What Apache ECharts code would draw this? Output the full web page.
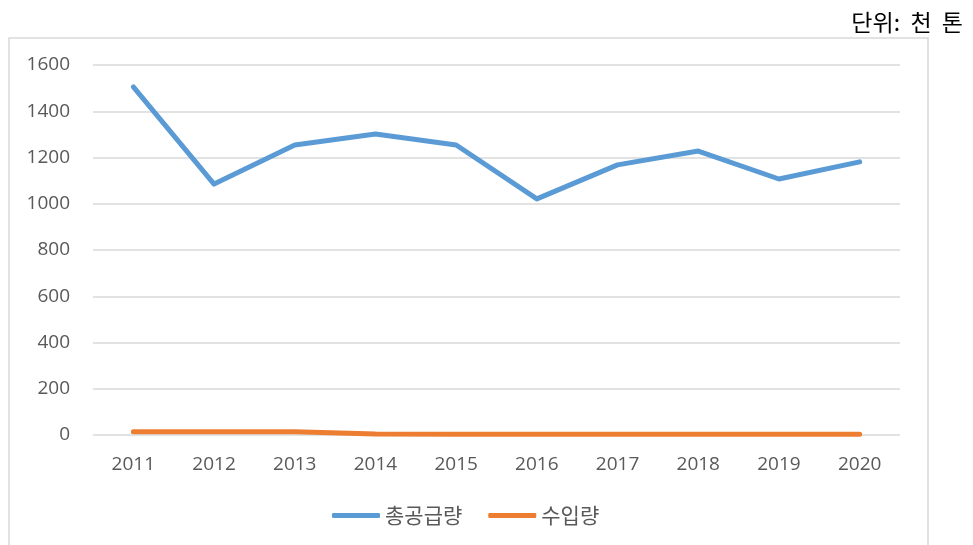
<!DOCTYPE html>
<html>
<head>
<meta charset="utf-8">
<script src="https://cdn.jsdelivr.net/npm/echarts@6/dist/echarts.min.js"></script>
<style>
html, body { margin: 0; padding: 0; background: #fff; }
#chart { width: 973px; height: 545px; }
</style>
</head>
<body>
<div id="chart"></div>
<script>
// data
var years = ['2011', '2012', '2013', '2014', '2015', '2016', '2017', '2018', '2019', '2020'];
var totalSupply = [1505, 1085, 1254, 1302, 1254, 1021, 1168, 1228, 1107, 1181];
var imports = [14, 14, 14, 4, 3, 3, 3, 3, 3, 3];
var yTicks = [0, 200, 400, 600, 800, 1000, 1200, 1400, 1600];

var chart = echarts.init(document.getElementById('chart'), null, { renderer: 'canvas' });

var option = {
	animation: false,
	title: {
		text: '단위:  천  톤',
		right: 5,
		top: 6,
		textStyle: {
			fontFamily: 'Noto Sans CJK KR',
			fontWeight: 'normal',
			fontSize: 23,
			color: '#000'
		}
	},
	graphic: [{
		type: 'rect',
		shape: { x: 9, y: 38, width: 919, height: 530 },
		style: { fill: 'none', stroke: '#d9d9d9', lineWidth: 1.5 },
		silent: true
	}],
	legend: {
		bottom: 14,
		left: 327,
		itemWidth: 48,
		itemHeight: 5,
		itemGap: 26,
		icon: 'roundRect',
		textStyle: {
			fontFamily: 'Noto Sans CJK KR',
			fontSize: 21,
			color: '#595959'
		},
		data: ['총공급량', '수입량']
	},
	grid: {
		left: 93,
		right: 73,
		top: 65,
		bottom: 110
	},
	xAxis: {
		type: 'category',
		data: years,
		boundaryGap: true,
		axisLine: { show: false },
		axisTick: { show: false },
		axisLabel: {
			margin: 20,
			fontFamily: 'Open Sans',
			fontSize: 19,
			color: '#595959'
		}
	},
	yAxis: {
		type: 'value',
		min: yTicks[0],
		max: yTicks[yTicks.length - 1],
		interval: 200,
		axisLine: { show: false },
		axisTick: { show: false },
		splitLine: { lineStyle: { color: '#d9d9d9', width: 1.5 } },
		axisLabel: {
			margin: 23,
			fontFamily: 'Open Sans',
			fontSize: 19,
			color: '#595959',
			formatter: function (v) { return String(v); }
		}
	},
	series: [{
		name: '총공급량',
		type: 'line',
		data: totalSupply,
		showSymbol: false,
		symbol: 'none',
		lineStyle: { color: '#5b9bd5', width: 5, cap: 'round', join: 'round' },
		itemStyle: { color: '#5b9bd5' }
	}, {
		name: '수입량',
		type: 'line',
		data: imports,
		showSymbol: false,
		symbol: 'none',
		lineStyle: { color: '#ed7d31', width: 5, cap: 'round', join: 'round' },
		itemStyle: { color: '#ed7d31' }
	}]
};

chart.setOption(option);
window.addEventListener('resize', chart.resize);
</script>
</body>
</html>
